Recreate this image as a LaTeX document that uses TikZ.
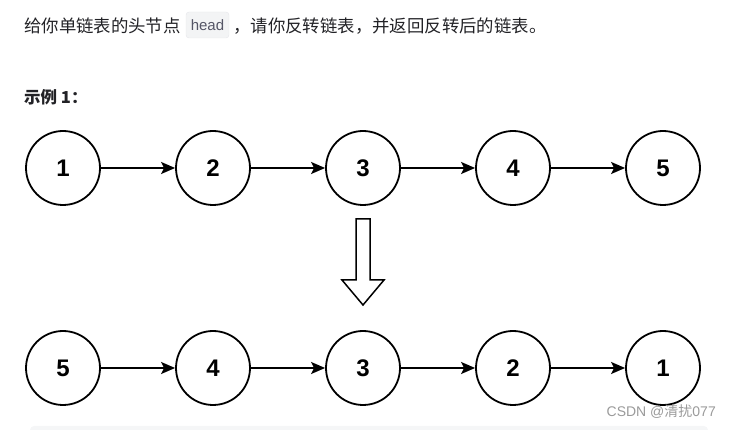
\documentclass[tikz,border=0pt]{standalone}
\usepackage{fontspec}
\setmainfont{Liberation Sans}
\newfontfamily\cjk{Noto Sans CJK SC}
\usetikzlibrary{arrows.meta}
\definecolor{txtgray}{HTML}{222226}
\definecolor{codebg}{HTML}{F3F4F5}
\definecolor{codeline}{HTML}{E5E6EB}
\definecolor{codetxt}{HTML}{555666}
\definecolor{wmark}{HTML}{9A9A9A}
\definecolor{barbg}{HTML}{F5F6F7}

\begin{document}
\begin{tikzpicture}[x=1pt, y=-1pt, node distance=150pt,
    main node/.style={circle,draw,line width=1.8pt,minimum size=74pt,inner sep=0pt,
      font=\fontsize{24}{24}\selectfont\bfseries},
    link/.style={-{Stealth[length=14pt,width=12pt,inset=3pt]},line width=1.8pt},
    cjk text/.style={anchor=west,inner sep=0pt,text=txtgray,font=\cjk\fontsize{17.4}{20}\selectfont}]

    \useasboundingbox (0,0) rectangle (729,430);

    % heading
    \node[cjk text] (q1) at (24,26) {给你单链表的头节点};
    \node[draw=codeline,fill=codebg,rounded corners=3pt,minimum width=43pt,minimum height=26pt,
      inner sep=0pt,text=codetxt,font=\fontsize{15}{15}\selectfont] (code) at (207.5,25) {head};
    \node[cjk text] (q2) at (233,26) {，请你反转链表，并返回反转后的链表。};
    \node[cjk text,font=\cjk\bfseries\fontsize{16.5}{20}\selectfont] (ex) at (24,97) {示例 1：};

    % original list
    \node[main node] (a1) at (63,168) {1};
    \node[main node] (a2) [right of=a1] {2};
    \node[main node] (a3) [right of=a2] {3};
    \node[main node] (a4) [right of=a3] {4};
    \node[main node] (a5) [right of=a4] {5};

    % reversed list
    \node[main node] (b5) at (63,368) {5};
    \node[main node] (b4) [right of=b5] {4};
    \node[main node] (b3) [right of=b4] {3};
    \node[main node] (b2) [right of=b3] {2};
    \node[main node] (b1) [right of=b2] {1};

    \path[link]
    (a1) edge (a2)
    (a2) edge (a3)
    (a3) edge (a4)
    (a4) edge (a5)
    (b5) edge (b4)
    (b4) edge (b3)
    (b3) edge (b2)
    (b2) edge (b1);

    % block arrow
    \draw[line width=1.5pt,line join=miter,fill=white]
      (356,219) -- (370,219) -- (370,280) -- (384,280) -- (363,305)
      -- (342,280) -- (356,280) -- cycle;

    % watermark and bottom bar
    \node[anchor=east,inner sep=0pt,text=wmark,font=\fontsize{14}{14}\selectfont] (wm)
      at (716,412) {CSDN @{\cjk 清扰}077};
    \fill[barbg,rounded corners=4pt] (30,426) rectangle (708,436);
\end{tikzpicture}
\end{document}
